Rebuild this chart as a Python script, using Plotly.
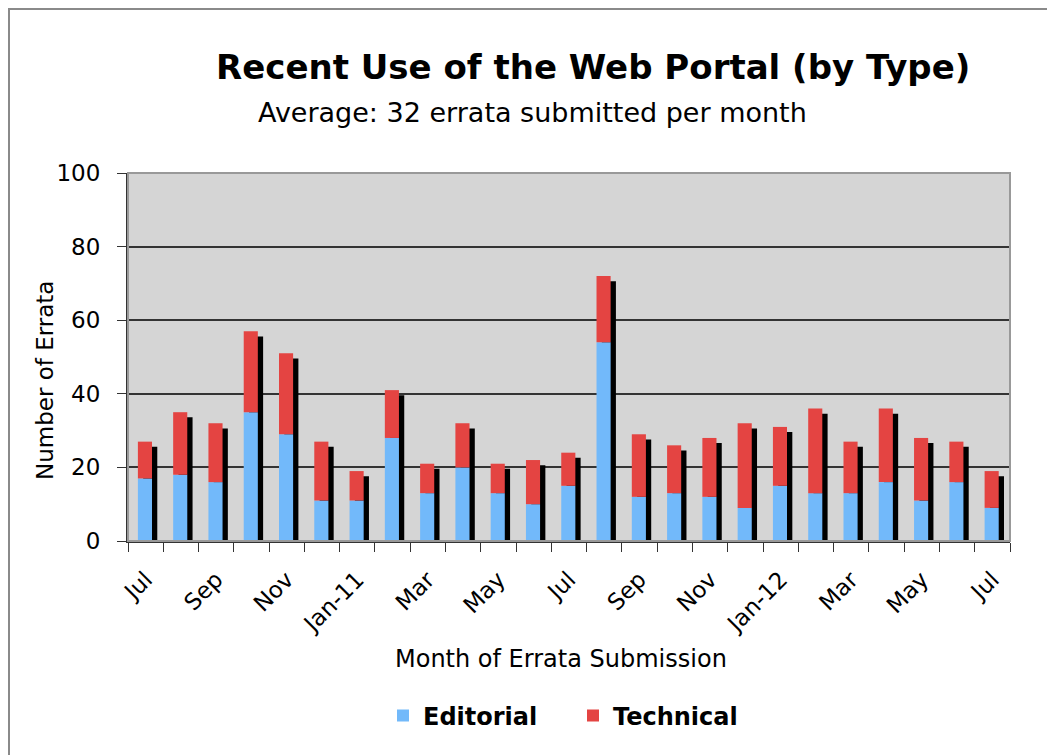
import plotly.graph_objects as go

months = ["Jul", "Aug", "Sep", "Oct", "Nov", "Dec", "Jan-11", "Feb", "Mar", "Apr", "May", "Jun",
          "Jul", "Aug", "Sep", "Oct", "Nov", "Dec", "Jan-12", "Feb", "Mar", "Apr", "May", "Jun", "Jul"]
editorial = [17, 18, 16, 35, 29, 11, 11, 28, 13, 20, 13, 10, 15, 54, 12, 13, 12, 9, 15, 13, 13, 16, 11, 16, 9]
total = [27, 35, 32, 57, 51, 27, 19, 41, 21, 32, 21, 22, 24, 72, 29, 26, 28, 32, 31, 36, 27, 36, 28, 27, 19]
technical = [t - e for t, e in zip(total, editorial)]
tick_labels = ["Jul", "Sep", "Nov", "Jan-11", "Mar", "May", "Jul", "Sep", "Nov", "Jan-12", "Mar", "May", "Jul"]

idx = list(range(len(months)))
FONT = "DejaVu Sans"

L, T, PW, PH = 120, 165, 882, 368
W, H = 1055, 755


def px(x):
    return (x - L) / PW


def py(y):
    return (T + PH - y) / PH


fig = go.Figure()
# drop shadow
fig.add_trace(go.Bar(x=idx, y=[t - 1.4 for t in total], width=0.4, offset=-0.07,
                     marker=dict(color="black", line=dict(width=0)), showlegend=False,
                     hoverinfo="skip"))
fig.add_trace(go.Bar(x=idx, y=editorial, name="Editorial", width=0.4, offset=-0.22,
                     marker=dict(color="#72b9fa", line=dict(width=0))))
fig.add_trace(go.Bar(x=idx, y=technical, base=editorial, name="Technical", width=0.4, offset=-0.22,
                     marker=dict(color="#e44442", line=dict(width=0))))

fig.update_layout(
    barmode="overlay",
    width=W, height=H,
    margin=dict(l=L, r=W - L - PW, t=T, b=H - T - PH),
    paper_bgcolor="white", plot_bgcolor="#d5d5d5",
    font=dict(family=FONT, color="black"),
    legend=dict(orientation="h", x=px(565), xanchor="center", y=py(708), yanchor="middle",
                font=dict(size=24, family=FONT, weight="bold"), itemwidth=30,
                entrywidth=145, traceorder="normal", bgcolor="rgba(0,0,0,0)"),
    annotations=[
        dict(text="<b>Recent Use of the Web Portal (by Type)</b>", xref="paper", yref="paper",
             x=px(585), y=py(59), xanchor="center", yanchor="middle",
             showarrow=False, font=dict(size=34, family=FONT)),
        dict(text="Average: 32 errata submitted per month", xref="paper", yref="paper",
             x=px(524), y=py(104), xanchor="center", yanchor="middle",
             showarrow=False, font=dict(size=27, family=FONT)),
        dict(text="Month of Errata Submission", xref="paper", yref="paper",
             x=px(553), y=py(651), xanchor="center", yanchor="middle",
             showarrow=False, font=dict(size=24, family=FONT)),
        dict(text="Number of Errata", xref="paper", yref="paper", textangle=-90,
             x=px(37), y=py(373), xanchor="center", yanchor="middle",
             showarrow=False, font=dict(size=23, family=FONT)),
    ],
    shapes=[
        dict(type="rect", xref="paper", yref="paper", x0=px(1), x1=1.2,
             y0=-0.8, y1=py(1), line=dict(color="#8a8a8a", width=2), layer="below"),
        dict(type="rect", xref="paper", yref="paper", x0=0, x1=1, y0=0, y1=1,
             line=dict(color="#999999", width=2), layer="above"),
    ],
)

fig.update_xaxes(
    range=[-0.5, 24.5], tickmode="array", tickvals=idx[::2], ticktext=tick_labels,
    tickangle=-45, ticks="", tickfont=dict(size=23, family=FONT), ticklabelstandoff=14,
    showline=True, linecolor="#333333", linewidth=2, showgrid=False, zeroline=False,
    minor=dict(tickmode="linear", tick0=-0.5, dtick=1, ticks="outside", ticklen=9,
               tickcolor="#333333", showgrid=False),
)
fig.update_yaxes(
    range=[0, 100], tickmode="linear", tick0=0, dtick=20, ticks="outside", ticklen=9,
    tickcolor="#333333", tickfont=dict(size=23, family=FONT), ticklabelstandoff=12,
    showline=True, linecolor="#333333", linewidth=2,
    showgrid=True, gridcolor="#333333", gridwidth=1.5, zeroline=False,
)

fig.write_html("out.html")
